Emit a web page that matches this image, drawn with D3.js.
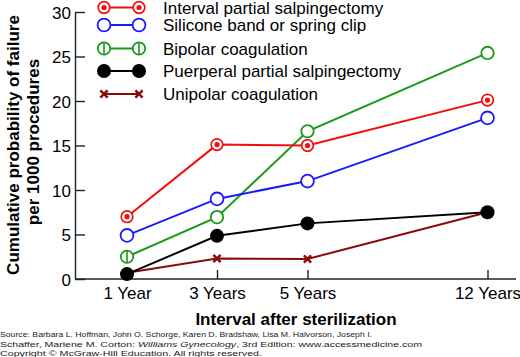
<!DOCTYPE html>
<html><head><meta charset="utf-8">
<script src="https://cdn.jsdelivr.net/npm/d3@7"></script>
<style>
body{margin:0;background:#fff;}
text{font-family:"Liberation Sans",Arial,sans-serif;}
</style></head>
<body><svg id="c" width="520" height="357"></svg>
<script>
const years = [1, 3, 5, 12];
const xLabels = ["1 Year", "3 Years", "5 Years", "12 Years"];
const yTicks = [0, 5, 10, 15, 20, 25, 30];
const seriesNames = ["Interval partial salpingectomy", "Silicone band or spring clip", "Bipolar coagulation", "Puerperal partial salpingectomy", "Unipolar coagulation"];
const intervalVals = [7.0, 15.1, 15.0, 20.1];
const siliconeVals = [4.9, 9.0, 11.0, 18.1];
const bipolarVals = [2.5, 6.95, 16.6, 25.4];
const puerperalVals = [0.55, 4.85, 6.25, 7.5];
const unipolarVals = [0.7, 2.3, 2.25, 7.5];

const svg = d3.select("#c");
const x = d3.scaleLinear().domain(years).range([127, 217, 307.5, 487.5]);
const y = d3.scaleLinear().domain([0, 30]).range([279, 12]);

const series = [
  {name: seriesNames[0], vals: intervalVals, color: "#f20d0d", type: "dotc"},
  {name: seriesNames[1], vals: siliconeVals, color: "#1a1aff", type: "open"},
  {name: seriesNames[2], vals: bipolarVals, color: "#1a991a", type: "bip"},
  {name: seriesNames[3], vals: puerperalVals, color: "#000000", type: "fill"},
  {name: seriesNames[4], vals: unipolarVals, color: "#8b0a0a", type: "x"}
];

// axes
const yAxis = d3.axisLeft(y).tickValues(yTicks).tickSizeInner(-10).tickSizeOuter(0).tickPadding(4);
const gy = svg.append("g").attr("transform", "translate(75,0)").call(yAxis);
gy.select(".domain").attr("stroke", "#222").attr("stroke-width", 1.4);
gy.selectAll(".tick line").attr("stroke", "#222").attr("stroke-width", 1.4);
gy.selectAll(".tick text").attr("font-size", 17).attr("font-family", "Liberation Sans, Arial, sans-serif").attr("fill", "#000").attr("dy", "0.36em");

const xAxis = d3.axisBottom(x).tickValues(years).tickFormat((d, i) => xLabels[i]).tickSizeInner(-9).tickSizeOuter(0).tickPadding(8);
const gx = svg.append("g").attr("transform", "translate(0,279)").call(xAxis);
gx.select(".domain").attr("d", "M75,0H516").attr("stroke", "#222").attr("stroke-width", 1.4);
gx.selectAll(".tick line").attr("stroke", "#222").attr("stroke-width", 1.4);
gx.selectAll(".tick text").attr("font-size", 17).attr("font-family", "Liberation Sans, Arial, sans-serif").attr("fill", "#000");

// titles
svg.append("text").attr("x", 296).attr("y", 325).attr("text-anchor", "middle")
  .attr("font-weight", "bold").attr("font-size", 17).text("Interval after sterilization");
const yt = svg.append("g").attr("transform", "translate(0,145) rotate(-90)");
yt.append("text").attr("x", 0).attr("y", 19).attr("text-anchor", "middle").attr("font-weight", "bold").attr("font-size", 17).text("Cumulative probability of failure");
yt.append("text").attr("x", 3).attr("y", 39).attr("text-anchor", "middle").attr("font-weight", "bold").attr("font-size", 17).text("per 1000 procedures");

// marker drawing
function marker(g, type, color, cx, cy, withBar) {
  if (type === "dotc") {
    g.append("circle").attr("cx", cx).attr("cy", cy).attr("r", 5.8).attr("fill", "#fff").attr("stroke", color).attr("stroke-width", 1.7);
    g.append("circle").attr("cx", cx).attr("cy", cy).attr("r", 2.6).attr("fill", color);
  } else if (type === "open") {
    g.append("circle").attr("cx", cx).attr("cy", cy).attr("r", 6.4).attr("fill", "#fff").attr("stroke", color).attr("stroke-width", 1.8);
  } else if (type === "bip") {
    g.append("circle").attr("cx", cx).attr("cy", cy).attr("r", 6.2).attr("fill", "#fff").attr("stroke", color).attr("stroke-width", 1.8);
    if (withBar) g.append("line").attr("x1", cx).attr("x2", cx).attr("y1", cy - 6).attr("y2", cy + 6).attr("stroke", color).attr("stroke-width", 1.6);
  } else if (type === "fill") {
    g.append("circle").attr("cx", cx).attr("cy", cy).attr("r", 7).attr("fill", color);
  } else if (type === "x") {
    const s = 3.6;
    g.append("path").attr("d", `M${cx - s},${cy - s}L${cx + s},${cy + s}M${cx - s},${cy + s}L${cx + s},${cy - s}`)
      .attr("stroke", color).attr("stroke-width", 2.5).attr("fill", "none");
  }
}

const line = d3.line().x((d, i) => x(years[i])).y(d => y(d));
const plot = svg.append("g");
[4, 3, 2, 1, 0].forEach(k => {
  const s = series[k];
  const g = plot.append("g");
  g.append("path").attr("d", line(s.vals)).attr("fill", "none").attr("stroke", s.color).attr("stroke-width", 2);
  s.vals.forEach((v, i) => marker(g, s.type, s.color, x(years[i]), y(v), i === 0));
});

// legend
const legY = [7.5, 25, 48.5, 71, 94];
series.forEach((s, k) => {
  const g = svg.append("g");
  const ly = legY[k];
  g.append("line").attr("x1", 104).attr("x2", 139).attr("y1", ly).attr("y2", ly).attr("stroke", s.color).attr("stroke-width", 2);
  marker(g, s.type, s.color, 104, ly, true);
  marker(g, s.type, s.color, 139, ly, true);
  g.append("text").attr("x", 163).attr("y", ly + 6).attr("font-size", 17).text(s.name);
});

// source
const src = svg.append("g").attr("font-family", "DejaVu Sans, Verdana, sans-serif").attr("font-size", 6.6).attr("fill", "#222");
src.append("text").attr("x", 0).attr("y", 337).attr("textLength", 372).attr("lengthAdjust", "spacingAndGlyphs")
  .text("Source: Barbara L. Hoffman, John O. Schorge, Karen D. Bradshaw, Lisa M. Halvorson, Joseph I.");
const t2 = src.append("text").attr("x", 0).attr("y", 346.5).attr("textLength", 422).attr("lengthAdjust", "spacingAndGlyphs");
t2.append("tspan").text("Schaffer, Marlene M. Corton: ");
t2.append("tspan").attr("font-style", "italic").text("Williams Gynecology");
t2.append("tspan").text(", 3rd Edition: www.accessmedicine.com");
src.append("text").attr("x", 0).attr("y", 356).attr("textLength", 262).attr("lengthAdjust", "spacingAndGlyphs")
  .text("Copyright \u00A9 McGraw-Hill Education. All rights reserved.");
</script></body></html>
